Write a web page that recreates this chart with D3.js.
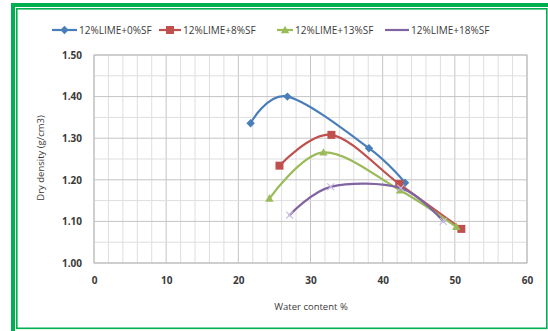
<!DOCTYPE html>
<html>
<head>
<meta charset="utf-8">
<script src="https://cdn.jsdelivr.net/npm/d3@7"></script>
<style>
  html, body { margin: 0; padding: 0; background: #fff; }
  svg { display: block; }
  text { font-family: "Open Sans", Lato, sans-serif; }
</style>
</head>
<body>
<svg id="chart" width="548" height="331"></svg>
<script>
// Compaction curves: water content (%) vs dry density (g/cm3)
const seriesNames = ["12%LIME+0%SF", "12%LIME+8%SF", "12%LIME+13%SF", "12%LIME+18%SF"];
const seriesColors = ["#4a7ebb", "#c0504d", "#9bbb59", "#8064a2"];
const seriesMarkers = ["diamond", "square", "triangle", "cross"];

const water0 = [21.7, 26.8, 38.1, 43.1];
const density0 = [1.336, 1.400, 1.276, 1.193];
const water8 = [25.7, 32.9, 42.3, 50.9];
const density8 = [1.234, 1.308, 1.190, 1.082];
const water13 = [24.3, 31.8, 42.4, 50.2];
const density13 = [1.155, 1.266, 1.175, 1.087];
const water18 = [27.1, 32.8, 42.5, 48.4];
const density18 = [1.115, 1.183, 1.180, 1.100];

const xTicks = [0, 10, 20, 30, 40, 50, 60];
const yTicks = [1.00, 1.10, 1.20, 1.30, 1.40, 1.50];

const seriesData = [
  [water0, density0], [water8, density8], [water13, density13], [water18, density18]
].map(([xs, ys]) => xs.map((x, i) => ({ x, y: ys[i] })));

const svg = d3.select("#chart");

// double green frame
svg.append("rect").attr("x", 13).attr("y", 5).attr("width", 560).attr("height", 340)
  .attr("fill", "none").attr("stroke", "#00b050").attr("stroke-width", 4);
svg.append("rect").attr("x", 16.8).attr("y", 8.8).attr("width", 530).attr("height", 319.5)
  .attr("fill", "none").attr("stroke", "#00b050").attr("stroke-width", 1.6);

const plot = { left: 94, right: 527, top: 55, bottom: 263 };
const x = d3.scaleLinear().domain([0, 60]).range([plot.left, plot.right]);
const y = d3.scaleLinear().domain([1.0, 1.5]).range([plot.bottom, plot.top]);

// gridlines
const g = svg.append("g");
d3.range(0, 61, 2).forEach(v => {
  g.append("line").attr("x1", x(v)).attr("x2", x(v)).attr("y1", plot.top).attr("y2", plot.bottom)
    .attr("stroke", v % 10 === 0 ? "#c4c4c4" : "#dedede").attr("stroke-width", 1);
});
d3.range(0, 11).forEach(i => {
  const v = 1 + i * 0.05;
  g.append("line").attr("x1", plot.left).attr("x2", plot.right).attr("y1", y(v)).attr("y2", y(v))
    .attr("stroke", i % 2 === 0 ? "#c4c4c4" : "#dedede").attr("stroke-width", 1);
});
g.append("rect").attr("x", plot.left).attr("y", plot.top)
  .attr("width", plot.right - plot.left).attr("height", plot.bottom - plot.top)
  .attr("fill", "none").attr("stroke", "#bcbcbc");

// axes
const xAxis = d3.axisBottom(x).tickValues(xTicks).tickSize(0).tickPadding(14).tickFormat(d3.format("d"));
const yAxis = d3.axisLeft(y).tickValues(yTicks).tickSize(0).tickPadding(12).tickFormat(d3.format(".2f"));
const gx = svg.append("g").attr("transform", `translate(0,${plot.bottom})`).call(xAxis);
const gy = svg.append("g").attr("transform", `translate(${plot.left},0)`).call(yAxis);
[gx, gy].forEach(a => {
  a.select(".domain").remove();
  a.selectAll("text").attr("font-size", 10).attr("font-weight", "bold").attr("fill", "#3a3a3a")
    .style("font-family", "'Open Sans', sans-serif");
});

// axis titles
svg.append("text").attr("x", 311).attr("y", 310).attr("text-anchor", "middle")
  .attr("font-size", 9.5).attr("fill", "#3a3a3a").text("Water content %");
svg.append("text").attr("transform", "translate(44,158) rotate(-90)").attr("text-anchor", "middle")
  .attr("font-size", 9.5).attr("fill", "#3a3a3a").text("Dry density (g/cm3)");

// marker shapes
function drawMarker(sel, type, color, cx, cy) {
  if (type === "diamond") {
    sel.append("path").attr("d", `M${cx},${cy - 4.2}L${cx + 4.2},${cy}L${cx},${cy + 4.2}L${cx - 4.2},${cy}Z`)
      .attr("fill", color);
  } else if (type === "square") {
    sel.append("rect").attr("x", cx - 4).attr("y", cy - 4).attr("width", 8).attr("height", 8).attr("fill", color);
  } else if (type === "triangle") {
    sel.append("path").attr("d", `M${cx},${cy - 4.2}L${cx + 4.2},${cy + 3.2}L${cx - 4.2},${cy + 3.2}Z`)
      .attr("fill", color);
  } else {
    sel.append("path").attr("d", `M${cx - 3.5},${cy - 3.5}L${cx + 3.5},${cy + 3.5}M${cx - 3.5},${cy + 3.5}L${cx + 3.5},${cy - 3.5}`)
      .attr("stroke", "#c5bbe0").attr("stroke-width", 1.1).attr("fill", "none");
  }
}

// smoothed series lines with markers
const line = d3.line().x(d => x(d.x)).y(d => y(d.y)).curve(d3.curveCardinal.tension(0));
seriesData.forEach((data, i) => {
  const s = svg.append("g");
  s.append("path").attr("d", line(data)).attr("fill", "none")
    .attr("stroke", seriesColors[i]).attr("stroke-width", 2.2).attr("stroke-linecap", "round");
  data.forEach(d => drawMarker(s, seriesMarkers[i], seriesColors[i], x(d.x), y(d.y)));
});

// legend
const legendX = [52, 159, 277, 385];
const legendText = [79, 183, 295, 411];
seriesNames.forEach((name, i) => {
  const lg = svg.append("g");
  const lx = legendX[i];
  lg.append("line").attr("x1", lx).attr("x2", legendText[i] - 2).attr("y1", 30).attr("y2", 30)
    .attr("stroke", seriesColors[i]).attr("stroke-width", 2.2);
  if (seriesMarkers[i] !== "cross") {
    drawMarker(lg, seriesMarkers[i], seriesColors[i], (lx + legendText[i] - 2) / 2, 30);
  }
  lg.append("text").attr("x", legendText[i]).attr("y", 33.6).attr("font-size", 10).attr("fill", "#3a3a3a")
    .text(name);
});
</script>
</body>
</html>
